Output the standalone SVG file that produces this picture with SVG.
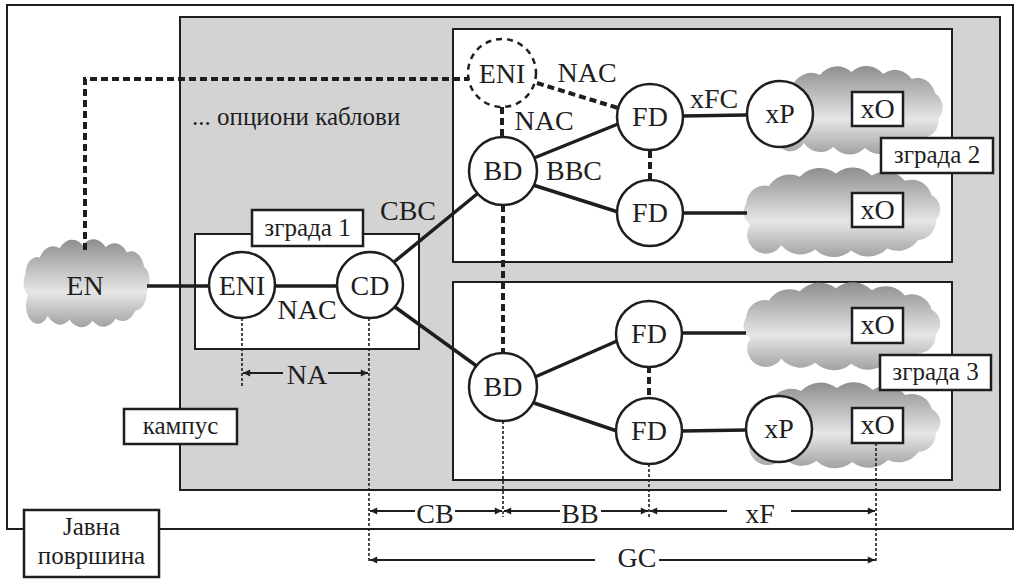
<svg xmlns="http://www.w3.org/2000/svg" width="1024" height="584" viewBox="0 0 1024 584">
<style>
text{fill:#1e1e1e;text-anchor:middle}
.lbl{font-size:25px}
.nl{font-size:28px}
.frame{fill:#fff;stroke:#1e1e1e;stroke-width:2}
.box{fill:#fff;stroke:#1e1e1e;stroke-width:2.5}
.node{fill:#fff;stroke:#1e1e1e;stroke-width:2.5}
.thick{stroke:#1e1e1e;stroke-width:3.5;fill:none}
.dash{stroke:#1e1e1e;stroke-width:4;stroke-dasharray:7 4;fill:none}
.dot{stroke:#1e1e1e;stroke-width:1.6;stroke-dasharray:3 2;fill:none}
.arr{stroke:#1e1e1e;stroke-width:1.8;fill:none;marker-end:url(#ah)}
</style>
<defs>
<linearGradient id="cg" x1="0" y1="0" x2="0" y2="1">
<stop offset="0" stop-color="#8e8e8e"/>
<stop offset="0.6" stop-color="#e6e6e6"/>
<stop offset="1" stop-color="#a2a2a2"/>
</linearGradient>
<path id="cloud" fill="url(#cg)" d="M -88,12 A 14 14 0 0 1 -92,-8 A 18 18 0 0 1 -70,-25 A 24 24 0 0 1 -40,-34 A 26 26 0 0 1 -5,-37 A 26 26 0 0 1 30,-35 A 24 24 0 0 1 62,-30 A 20 20 0 0 1 88,-16 A 15 15 0 0 1 92,8 A 18 18 0 0 1 75,27 A 24 24 0 0 1 45,35 A 26 26 0 0 1 10,37 A 26 26 0 0 1 -25,36 A 24 24 0 0 1 -58,32 A 18 18 0 0 1 -88,12 Z"/>
<marker id="ah" viewBox="0 0 10 10" refX="10" refY="5" markerWidth="5" markerHeight="4" markerUnits="strokeWidth" orient="auto">
<path d="M0,0 L10,5 L0,10 Z" fill="#1e1e1e"/>
</marker>
</defs>

<g id="public-area">
<rect class="frame" x="7" y="5" width="1006" height="524"/>
</g>
<g id="campus">
<rect x="180" y="17" width="820" height="473" fill="#d3d3d3" stroke="#1e1e1e" stroke-width="2"/>
</g>
<g id="building1">
<rect class="frame" x="195" y="234" width="224" height="115"/>
</g>
<g id="building2">
<rect class="frame" x="453" y="29" width="499" height="233"/>
</g>
<g id="building3">
<rect class="frame" x="453" y="282" width="499" height="198"/>
</g>

<g id="clouds">
<use href="#cloud" transform="translate(86,283) scale(0.66,1.02)"/>
<use href="#cloud" transform="translate(856,110) scale(0.9,1.03)"/>
<use href="#cloud" transform="translate(841,212) scale(1.03,1.04)"/>
<use href="#cloud" transform="translate(841,326) scale(1.03,1.02)"/>
<use href="#cloud" transform="translate(842,425) scale(1.02,1.0)"/>
</g>

<g id="connectors">
<line class="thick" x1="147" y1="286" x2="210" y2="286"/>
<line class="thick" x1="274" y1="286" x2="338" y2="286"/>
<line class="thick" x1="394" y1="262" x2="477" y2="194"/>
<line class="thick" x1="395" y1="307" x2="478" y2="367"/>
<line class="thick" x1="534" y1="158" x2="618" y2="124"/>
<line class="thick" x1="533" y1="185" x2="618" y2="212"/>
<line class="thick" x1="535" y1="377" x2="617" y2="341"/>
<line class="thick" x1="534" y1="403" x2="617" y2="431"/>
<line class="thick" x1="682" y1="116" x2="747" y2="115"/>
<line class="thick" x1="682" y1="213" x2="747" y2="213"/>
<line class="thick" x1="681" y1="333" x2="746" y2="333"/>
<line class="thick" x1="681" y1="431" x2="747" y2="430"/>
<polyline class="dash" points="85,250 85,79 469,79"/>
<line class="dash" x1="537" y1="83" x2="618" y2="108"/>
<line class="dash" x1="502" y1="107" x2="502" y2="138"/>
<line class="dash" x1="650" y1="151" x2="650" y2="181"/>
<line class="dash" x1="503" y1="205" x2="503" y2="354"/>
<line class="dash" x1="649" y1="366" x2="649" y2="398"/>
<line class="dot" x1="242" y1="318" x2="242" y2="386"/>
<line class="dot" x1="369" y1="318" x2="369" y2="562"/>
<line class="dot" x1="503" y1="421" x2="503" y2="517"/>
<line class="dot" x1="649" y1="464" x2="649" y2="517"/>
<line class="dot" x1="876" y1="443" x2="876" y2="562"/>
<line class="arr" x1="283" y1="373" x2="243" y2="373"/>
<line class="arr" x1="328" y1="373" x2="368" y2="373"/>
<line class="arr" x1="415" y1="511" x2="370" y2="511"/>
<line class="arr" x1="455" y1="511" x2="502" y2="511"/>
<line class="arr" x1="560" y1="511" x2="504" y2="511"/>
<line class="arr" x1="601" y1="511" x2="648" y2="511"/>
<line class="arr" x1="727" y1="511" x2="650" y2="511"/>
<line class="arr" x1="791" y1="511" x2="875" y2="511"/>
<line class="arr" x1="595" y1="560" x2="370" y2="560"/>
<line class="arr" x1="659" y1="560" x2="875" y2="560"/>
</g>

<g font-family="'Liberation Serif', 'Times New Roman', Tinos, 'DejaVu Serif', serif">
<g id="node-EN"><text class="nl" x="85" y="295">EN</text></g>
<g id="node-ENI1"><circle class="node" cx="242" cy="285" r="33"/><text class="nl" x="242" y="295">ENI</text></g>
<g id="node-CD"><circle class="node" cx="370" cy="285" r="33"/><text class="nl" x="370" y="295">CD</text></g>
<g id="node-ENI2"><circle cx="502" cy="73" r="34" fill="#fff" stroke="#1e1e1e" stroke-width="2.5" stroke-dasharray="6 5"/><text class="nl" x="502" y="83">ENI</text></g>
<g id="node-BD2"><circle class="node" cx="503" cy="171" r="34"/><text class="nl" x="503" y="180">BD</text></g>
<g id="node-FD2a"><circle class="node" cx="650" cy="117" r="33"/><text class="nl" x="650" y="126">FD</text></g>
<g id="node-FD2b"><circle class="node" cx="650" cy="213" r="33"/><text class="nl" x="650" y="222">FD</text></g>
<g id="node-xP2"><circle class="node" cx="780" cy="114" r="33"/><text class="nl" x="780" y="123">xP</text></g>
<g id="node-BD3"><circle class="node" cx="503" cy="387" r="34"/><text class="nl" x="503" y="396">BD</text></g>
<g id="node-FD3a"><circle class="node" cx="649" cy="334" r="33"/><text class="nl" x="649" y="343">FD</text></g>
<g id="node-FD3b"><circle class="node" cx="649" cy="431" r="33"/><text class="nl" x="649" y="440">FD</text></g>
<g id="node-xP3"><circle class="node" cx="779" cy="429" r="33"/><text class="nl" x="779" y="438">xP</text></g>

<g id="xO-boxes">
<rect class="box" x="852" y="92" width="51" height="34"/><text class="nl" x="877.5" y="118">xO</text>
<rect class="box" x="852" y="193" width="51" height="34"/><text class="nl" x="877.5" y="219">xO</text>
<rect class="box" x="852" y="308" width="51" height="35"/><text class="nl" x="877.5" y="334">xO</text>
<rect class="box" x="852" y="408" width="51" height="35"/><text class="nl" x="877.5" y="434">xO</text>
</g>

<g id="labels">
<rect class="box" x="252" y="210" width="111" height="36"/><text class="lbl" x="307.5" y="236">зграда 1</text>
<rect class="box" x="881" y="138" width="112" height="35"/><text class="lbl" x="937" y="163">зграда 2</text>
<rect class="box" x="880" y="355" width="111" height="35"/><text class="lbl" x="935.5" y="380">зграда 3</text>
<rect class="box" x="124" y="409" width="113" height="35"/><text class="lbl" x="180.5" y="434">кампус</text>
<rect class="box" x="24" y="510" width="135" height="67"/>
<text class="lbl" x="91.5" y="535">Јавна</text>
<text class="lbl" x="91.5" y="564">површина</text>
<text class="lbl" x="192" y="125" text-anchor="start" style="text-anchor:start">... опциони каблови</text>
<text class="nl" x="408" y="220">CBC</text>
<text class="nl" x="587" y="82">NAC</text>
<text class="nl" x="544" y="130">NAC</text>
<text class="nl" x="574" y="180">BBC</text>
<text class="nl" x="714" y="108">xFC</text>
<text class="nl" x="307" y="319">NAC</text>
<text class="nl" x="307" y="384">NA</text>
<text class="nl" x="435" y="523">CB</text>
<text class="nl" x="580" y="523">BB</text>
<text class="nl" x="760" y="523">xF</text>
<text class="nl" x="637" y="567">GC</text>
</g>
</g>
</svg>
